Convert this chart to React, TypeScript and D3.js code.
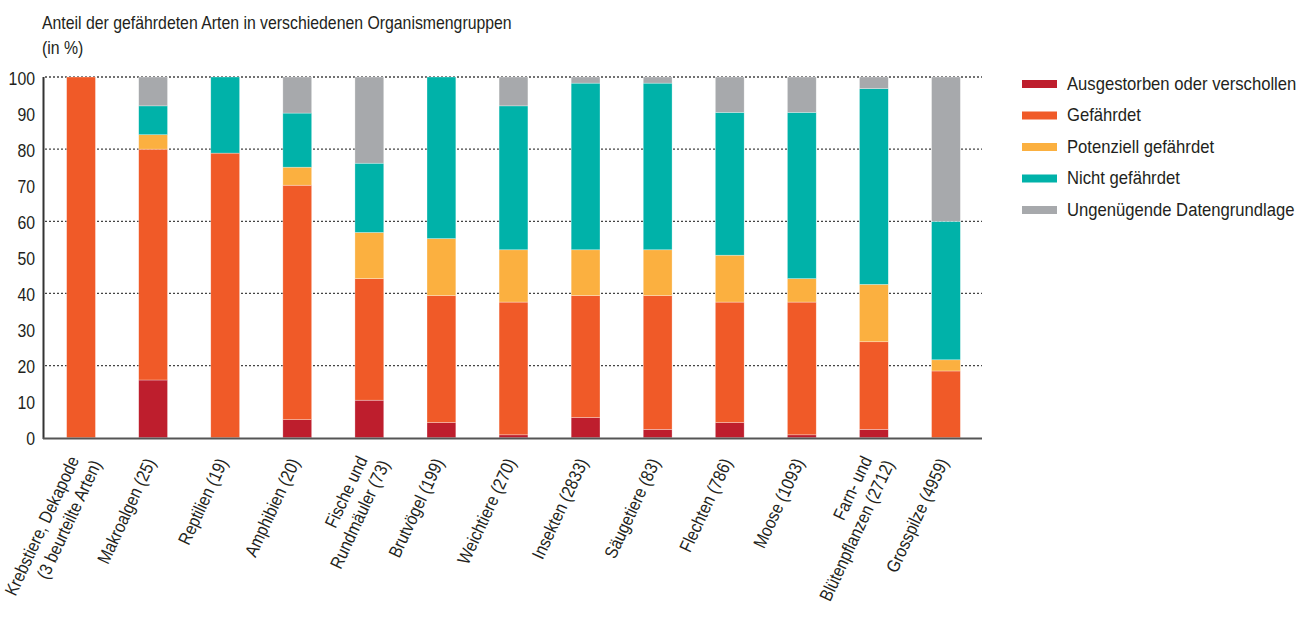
import React from "react";
import * as d3 from "d3";

const WIDTH = 1306;
const HEIGHT = 617;

// groups (label lines) and the five status series, in %
const groups = [
  ["Krebstiere, Dekapode", "(3 beurteilte Arten)"],
  ["Makroalgen (25)"],
  ["Reptilien (19)"],
  ["Amphibien (20)"],
  ["Fische und", "Rundmäuler (73)"],
  ["Brutvögel (199)"],
  ["Weichtiere (270)"],
  ["Insekten (2833)"],
  ["Säugetiere (83)"],
  ["Flechten (786)"],
  ["Moose (1093)"],
  ["Farn- und", "Blütenpflanzen (2712)"],
  ["Grosspilze (4959)"],
];

const ausgestorben = [0, 16, 0, 5, 10.4, 4.2, 0.8, 5.6, 2.3, 4.2, 0.8, 2.3, 0];
const gefaehrdet = [100, 64, 78.9, 65, 33.7, 35.2, 36.8, 33.8, 37.1, 33.4, 36.8, 24.3, 18.5];
const potenziell = [0, 4, 0, 5, 12.8, 15.8, 14.5, 12.7, 12.7, 13.0, 6.5, 15.9, 3.1];
const nichtGefaehrdet = [0, 8, 21.1, 15, 19.2, 44.8, 39.9, 46.2, 46.2, 39.6, 46.1, 54.3, 38.4];
const ungenuegend = [0, 8, 0, 10, 23.9, 0, 8.0, 1.7, 1.7, 9.8, 9.8, 3.2, 40];

const seriesNames = [
  "Ausgestorben oder verschollen",
  "Gefährdet",
  "Potenziell gefährdet",
  "Nicht gefährdet",
  "Ungenügende Datengrundlage",
];
const seriesColors = ["#be1e2d", "#f05a28", "#fbb040", "#00b2a9", "#a7a9ac"];
const yTicks = [0, 10, 20, 30, 40, 50, 60, 70, 80, 90, 100];
const gridTicks = [20, 40, 60, 80, 100];

const FONT = "'Liberation Sans', Arial, sans-serif";
const TEXT = "#231f20";
const FS = 17.5;
const SX = 0.905; // squeeze glyphs a bit, the original uses a condensed face

export default function App() {
  const keys = ["a", "g", "p", "n", "u"];
  const rows = groups.map((g, i) => ({
    key: i,
    a: ausgestorben[i],
    g: gefaehrdet[i],
    p: potenziell[i],
    n: nichtGefaehrdet[i],
    u: ungenuegend[i],
  }));
  const stacked = d3.stack<any>().keys(keys)(rows);

  const x = d3
    .scaleBand<number>()
    .domain(groups.map((_, i) => i))
    .range([45, 982])
    .paddingInner(0.6)
    .paddingOuter(0.3);

  const y = d3.scaleLinear().domain([0, 100]).range([437.7, 77]);

  const rot = -65;
  const lh = 22;
  const labelFs = 18;
  const labelSx = 0.87;

  return (
    <svg
      width={WIDTH}
      height={HEIGHT}
      style={{ position: "absolute", left: 0, top: 0, background: "#fff" }}
      fontFamily={FONT}
    >
      {/* title */}
      <text transform={`translate(42,29) scale(${SX},1)`} fontSize={FS} fill={TEXT}>
        Anteil der gefährdeten Arten in verschiedenen Organismengruppen
      </text>
      <text transform={`translate(42,54) scale(${SX},1)`} fontSize={FS} fill={TEXT}>
        (in %)
      </text>

      {/* grid */}
      {gridTicks.map((t) => (
        <line
          key={t}
          x1={45}
          x2={982}
          y1={y(t)}
          y2={y(t)}
          stroke="#444"
          strokeWidth={1.3}
          strokeDasharray="2,2"
        />
      ))}

      {/* bars */}
      {stacked.map((s, si) => (
        <g key={s.key} fill={seriesColors[si]}>
          {s.map((d, i) =>
            d[1] - d[0] > 0 ? (
              <rect
                key={i}
                x={x(i)}
                y={y(d[1])}
                width={x.bandwidth()}
                height={y(d[0]) - y(d[1])}
                stroke="#fff"
                strokeOpacity={0.5}
                strokeWidth={0.6}
              />
            ) : null
          )}
        </g>
      ))}

      {/* axes */}
      <line x1={43.5} x2={43.5} y1={77} y2={439} stroke="#333" strokeWidth={2} />
      <line x1={43} x2={982} y1={438.5} y2={438.5} stroke="#555" strokeWidth={2} />

      {yTicks.map((t) => (
        <text
          key={t}
          transform={`translate(35,${y(t) + 3}) scale(${SX},1)`}
          fontSize={FS}
          textAnchor="end"
          dominantBaseline="middle"
          fill={TEXT}
        >
          {t}
        </text>
      ))}

      {/* x labels */}
      {groups.map((lines, i) => {
        const cx = (x(i) as number) + x.bandwidth() / 2;
        const two = lines.length > 1;
        return (
          <text
            key={i}
            transform={`translate(${cx + 3},${462}) rotate(${rot}) scale(${labelSx},1)`}
            textAnchor="end"
            fontSize={labelFs}
            fill={TEXT}
          >
            {lines.map((l, li) => (
              <tspan
                key={li}
                x={li > 0 ? 6 / labelSx : 0}
                y={(two ? -5 : 0) + li * lh}
              >
                {l}
              </tspan>
            ))}
          </text>
        );
      })}

      {/* legend */}
      {seriesNames.map((name, i) => {
        const ly = 84 + i * 31.5;
        return (
          <g key={name}>
            <rect x={1022} y={ly - 4} width={35} height={8} fill={seriesColors[i]} />
            <text
              transform={`translate(1067,${ly + 5.5}) scale(0.9,1)`}
              fontSize={18.5}
              fill={TEXT}
            >
              {name}
            </text>
          </g>
        );
      })}
    </svg>
  );
}
